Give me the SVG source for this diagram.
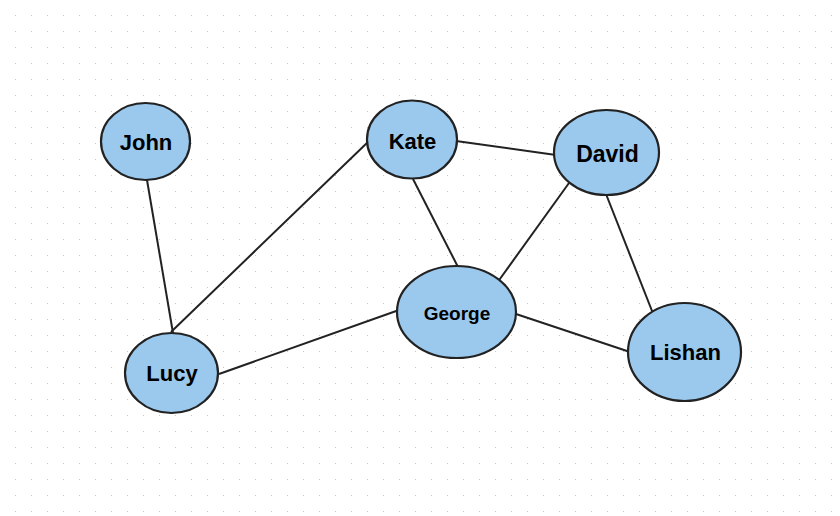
<svg xmlns="http://www.w3.org/2000/svg" width="840" height="516" viewBox="0 0 840 516">
<defs>
<pattern id="dots" x="0" y="0" width="16" height="16" patternUnits="userSpaceOnUse">
<rect x="15" y="15" width="2" height="2" fill="#c6c6c6"/>
</pattern>
<style>
.node ellipse{fill:#9bc9ee;stroke:#222;stroke-width:2.2}
.node text{font-family:"Liberation Sans",Arial,sans-serif;font-weight:bold;font-size:22px;fill:#000;text-anchor:middle}
#edges line{stroke:#222;stroke-width:2}
</style>
</defs>
<rect x="0" y="0" width="840" height="516" fill="#fff"/>
<rect x="-1" y="-1" width="842" height="518" fill="url(#dots)"/>
<g id="edges">
<line x1="147" y1="180" x2="173" y2="333"/>
<line x1="369" y1="141" x2="171" y2="332"/>
<line x1="456" y1="141" x2="556" y2="155"/>
<line x1="413" y1="179" x2="458" y2="267"/>
<line x1="569" y1="183" x2="497" y2="283"/>
<line x1="606" y1="194" x2="654" y2="316"/>
<line x1="399" y1="310" x2="219" y2="374"/>
<line x1="516" y1="314" x2="630" y2="352"/>
</g>
<g id="john" class="node"><ellipse cx="145.5" cy="141.5" rx="44.5" ry="38.5"/><text x="146" y="150">John</text></g>
<g id="kate" class="node"><ellipse cx="412" cy="139.5" rx="45" ry="39"/><text x="412.5" y="149">Kate</text></g>
<g id="david" class="node"><ellipse cx="606.5" cy="152.5" rx="52.5" ry="42.5"/><text x="607.5" y="162" style="font-size:23px">David</text></g>
<g id="george" class="node"><ellipse cx="456.5" cy="312" rx="59.5" ry="46"/><text x="457" y="320" style="font-size:19px">George</text></g>
<g id="lucy" class="node"><ellipse cx="171.5" cy="373" rx="46.5" ry="40"/><text x="172" y="381">Lucy</text></g>
<g id="lishan" class="node"><ellipse cx="684.5" cy="352" rx="56.5" ry="49"/><text x="685.5" y="360">Lishan</text></g>
</svg>
